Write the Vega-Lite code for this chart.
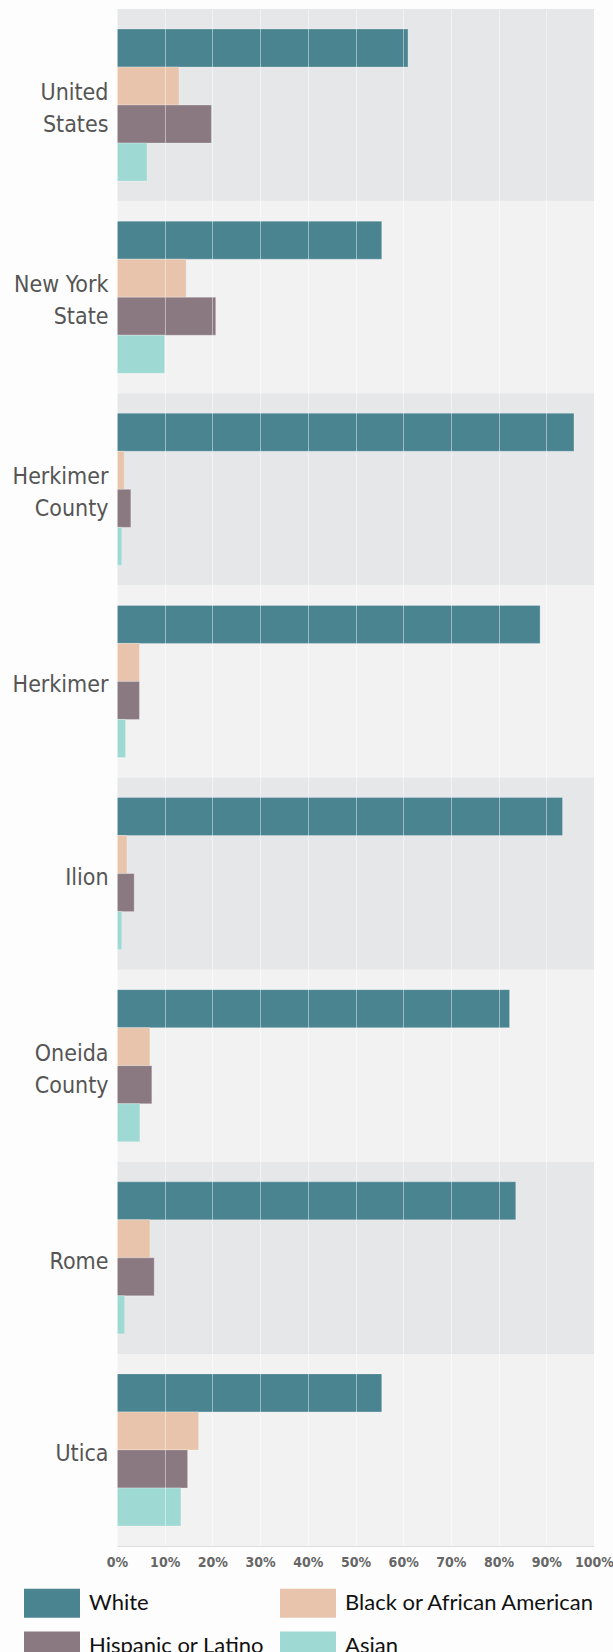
{
  "$schema": "https://vega.github.io/schema/vega-lite/v6.json",
  "autosize": {"type": "none"},
  "width": 477,
  "height": 1537,
  "padding": {"left": 117, "top": 9, "right": 19, "bottom": 106},
  "background": "#fdfdfd",
  "datasets": {
    "places": [
      {"place": "United States"},
      {"place": "New York State"},
      {"place": "Herkimer County"},
      {"place": "Herkimer"},
      {"place": "Ilion"},
      {"place": "Oneida County"},
      {"place": "Rome"},
      {"place": "Utica"}
    ],
    "shares": [
      {"place": "United States", "race": "White", "share": 0.610},
      {"place": "United States", "race": "Black or African American", "share": 0.130},
      {"place": "United States", "race": "Hispanic or Latino", "share": 0.198},
      {"place": "United States", "race": "Asian", "share": 0.063},
      {"place": "New York State", "race": "White", "share": 0.555},
      {"place": "New York State", "race": "Black or African American", "share": 0.145},
      {"place": "New York State", "race": "Hispanic or Latino", "share": 0.207},
      {"place": "New York State", "race": "Asian", "share": 0.100},
      {"place": "Herkimer County", "race": "White", "share": 0.958},
      {"place": "Herkimer County", "race": "Black or African American", "share": 0.015},
      {"place": "Herkimer County", "race": "Hispanic or Latino", "share": 0.029},
      {"place": "Herkimer County", "race": "Asian", "share": 0.010},
      {"place": "Herkimer", "race": "White", "share": 0.887},
      {"place": "Herkimer", "race": "Black or African American", "share": 0.047},
      {"place": "Herkimer", "race": "Hispanic or Latino", "share": 0.047},
      {"place": "Herkimer", "race": "Asian", "share": 0.018},
      {"place": "Ilion", "race": "White", "share": 0.934},
      {"place": "Ilion", "race": "Black or African American", "share": 0.021},
      {"place": "Ilion", "race": "Hispanic or Latino", "share": 0.036},
      {"place": "Ilion", "race": "Asian", "share": 0.010},
      {"place": "Oneida County", "race": "White", "share": 0.823},
      {"place": "Oneida County", "race": "Black or African American", "share": 0.069},
      {"place": "Oneida County", "race": "Hispanic or Latino", "share": 0.073},
      {"place": "Oneida County", "race": "Asian", "share": 0.048},
      {"place": "Rome", "race": "White", "share": 0.836},
      {"place": "Rome", "race": "Black or African American", "share": 0.069},
      {"place": "Rome", "race": "Hispanic or Latino", "share": 0.078},
      {"place": "Rome", "race": "Asian", "share": 0.016},
      {"place": "Utica", "race": "White", "share": 0.555},
      {"place": "Utica", "race": "Black or African American", "share": 0.171},
      {"place": "Utica", "race": "Hispanic or Latino", "share": 0.148},
      {"place": "Utica", "race": "Asian", "share": 0.134}
    ]
  },
  "layer": [
    {
      "data": {"name": "places"},
      "mark": {"type": "bar", "cornerRadius": 0},
      "encoding": {
        "y": {
          "field": "place",
          "type": "nominal",
          "sort": null,
          "scale": {"paddingInner": 0, "paddingOuter": 0},
          "axis": {
            "title": null,
            "orient": "left",
            "labelFont": "DejaVu Sans Condensed, DejaVu Sans, sans-serif",
            "labelFontSize": 23,
            "labelColor": "#555555",
            "labelPadding": 9,
            "labelLineHeight": 32,
            "labelLimit": 200,
            "labelOffset": {"condition": {"test": "indexof(datum.value, ' ') >= 0", "value": -12}, "value": 4},
            "ticks": false,
            "domain": false,
            "grid": false,
            "labelExpr": "datum.label == 'New York State' ? ['New York', 'State'] : split(datum.label, ' ')"
          }
        },
        "x": {"datum": 0, "type": "quantitative"},
        "x2": {"datum": 1},
        "color": {
          "field": "place",
          "type": "nominal",
          "scale": {
            "domain": ["United States", "New York State", "Herkimer County", "Herkimer", "Ilion", "Oneida County", "Rome", "Utica"],
            "range": ["#e6e7e9", "#f2f2f2", "#e6e7e9", "#f2f2f2", "#e6e7e9", "#f2f2f2", "#e6e7e9", "#f2f2f2"]
          },
          "legend": null
        }
      }
    },
    {
      "data": {"name": "shares"},
      "mark": {"type": "bar", "stroke": "#ffffff", "strokeOpacity": 0.25, "strokeWidth": 1},
      "encoding": {
        "y": {"field": "place", "type": "nominal", "sort": null},
        "yOffset": {
          "field": "race",
          "type": "nominal",
          "sort": ["White", "Black or African American", "Hispanic or Latino", "Asian"],
          "scale": {"paddingInner": 0, "paddingOuter": 0.526}
        },
        "x": {
          "field": "share",
          "type": "quantitative",
          "scale": {"domain": [0, 1], "nice": false, "zero": true},
          "axis": {
            "title": null,
            "orient": "bottom",
            "format": ".0%",
            "values": [0, 0.1, 0.2, 0.3, 0.4, 0.5, 0.6, 0.7, 0.8, 0.9, 1],
            "labelFont": "DejaVu Sans Condensed, DejaVu Sans, sans-serif",
            "labelFontSize": 14,
            "labelFontWeight": "bold",
            "labelColor": "#666666",
            "labelPadding": 9,
            "labelFlush": false,
            "labelOverlap": false,
            "ticks": false,
            "grid": true,
            "gridColor": "#ffffff",
            "gridOpacity": 0.45,
            "gridWidth": 1,
            "domainColor": "#dddddd",
            "zindex": 1
          }
        },
        "color": {
          "field": "race",
          "type": "nominal",
          "scale": {
            "domain": ["White", "Black or African American", "Hispanic or Latino", "Asian"],
            "range": ["#4b8491", "#e7c4ab", "#8a7981", "#9fd9d3"]
          },
          "legend": {
            "title": null,
            "orient": "none",
            "legendX": -93,
            "legendY": 1566,
            "direction": "horizontal",
            "columns": 2,
            "padding": 0,
            "labelFont": "Lato, sans-serif",
            "labelFontSize": 22,
            "labelColor": "#111111",
            "labelOffset": 9,
            "labelLimit": 300,
            "symbolType": "M-1,-0.52H1V0.52H-1Z",
            "symbolSize": 3136,
            "symbolStrokeWidth": 0,
            "symbolOpacity": 1,
            "rowPadding": -20,
            "columnPadding": 16
          }
        }
      }
    }
  ],
  "resolve": {"scale": {"color": "independent"}},
  "config": {
    "view": {"stroke": null},
    "axis": {"labelFontWeight": "normal"}
  }
}
